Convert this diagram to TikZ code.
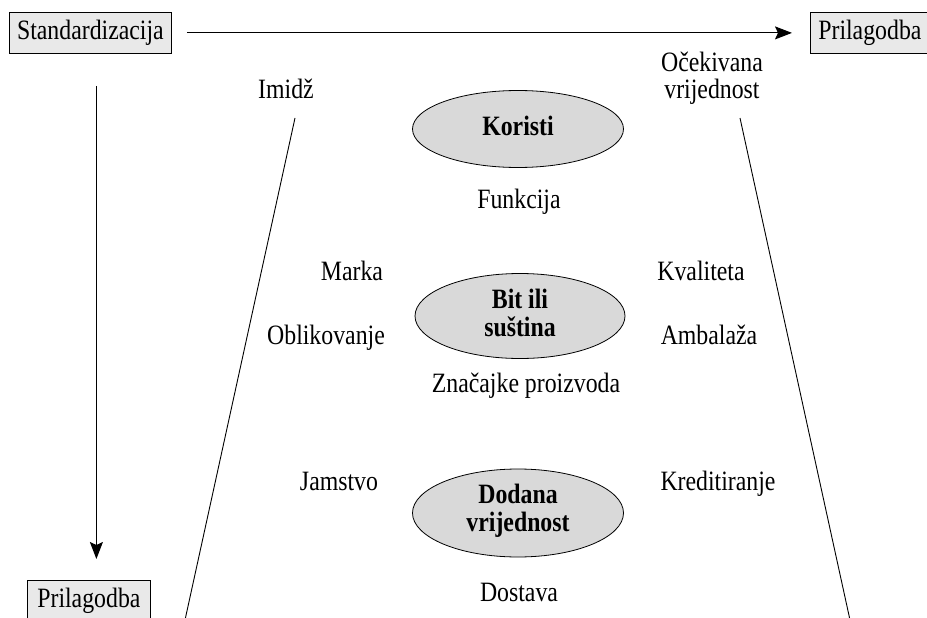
\documentclass[tikz,border=0pt]{standalone}
\usepackage{fontspec}
\setmainfont{Liberation Serif}[FakeStretch=0.85]
\usetikzlibrary{shapes.geometric,arrows.meta}
\begin{document}
\begin{tikzpicture}[x=1pt,y=-1pt,
  every node/.style={font=\fontsize{28}{25}\selectfont},
  box/.style={draw, fill=gray!17, line width=0.8pt, inner sep=0pt, anchor=north west, minimum height=41pt, text height=19pt, text depth=6pt},
  oval/.style={ellipse, draw, fill=gray!30, line width=0.8pt, minimum width=211pt, inner sep=0pt, align=center},
  lbl/.style={inner sep=0pt, anchor=base},
  arr/.style={-{Stealth[length=17pt,width=13pt,inset=3pt]}, line width=1.1pt},
  ln/.style={line width=0.9pt}]
\useasboundingbox (0,0) rectangle (927,618);
\clip (0,0) rectangle (927,618);
% boxes
\node[box, minimum width=162pt] (std) at (9,12) {Standardizacija};
\node[box, minimum width=119pt] (prt) at (810,12) {Prilagodba};
\node[box, minimum width=123pt] (prb) at (27,580) {Prilagodba};
% arrows
\draw[arr, shorten <=15pt, shorten >=18pt] (std.east) -- (prt.west);
\draw[arr, shorten <=32pt, shorten >=21pt] ([xshift=6pt]std.south) -- ([xshift=7.5pt]prb.north);
% slanted lines
\coordinate (l1) at (295,118); \coordinate (l2) at (185,620);
\coordinate (r1) at (740,118); \coordinate (r2) at (850,620);
\draw[ln] (l1) -- (l2);
\draw[ln] (r1) -- (r2);
% ellipses
\node[oval, minimum height=77pt, text height=19pt, text depth=6pt, font=\fontsize{28}{27}\selectfont\bfseries] (kor) at (518,129) {Koristi};
\node[oval, minimum height=85pt, minimum width=210pt, text height=46pt, text depth=6pt, font=\fontsize{28}{28}\selectfont\bfseries] (bit) at (520,316) {Bit ili\\suština};
\node[oval, minimum height=88pt, text height=42pt, text depth=6pt, font=\fontsize{28}{28}\selectfont\bfseries] (dod) at (518,513) {Dodana\\vrijednost};
% labels
\node[lbl] (imi) at (286,99) {Imidž};
\node[lbl] (oce1) at (712,71) {Očekivana};
\node[lbl] (oce2) at (712,99) {vrijednost};
\node[lbl] (fun) at (519,208) {Funkcija};
\node[lbl] (mar) at (352,280) {Marka};
\node[lbl] (kva) at (701,280) {Kvaliteta};
\node[lbl] (obl) at (326,344) {Oblikovanje};
\node[lbl] (amb) at (709,344) {Ambalaža};
\node[lbl] (zna) at (526,392) {Značajke proizvoda};
\node[lbl] (jam) at (339,490) {Jamstvo};
\node[lbl] (kre) at (718,490) {Kreditiranje};
\node[lbl] (dos) at (519,601) {Dostava};
\end{tikzpicture}
\end{document}
